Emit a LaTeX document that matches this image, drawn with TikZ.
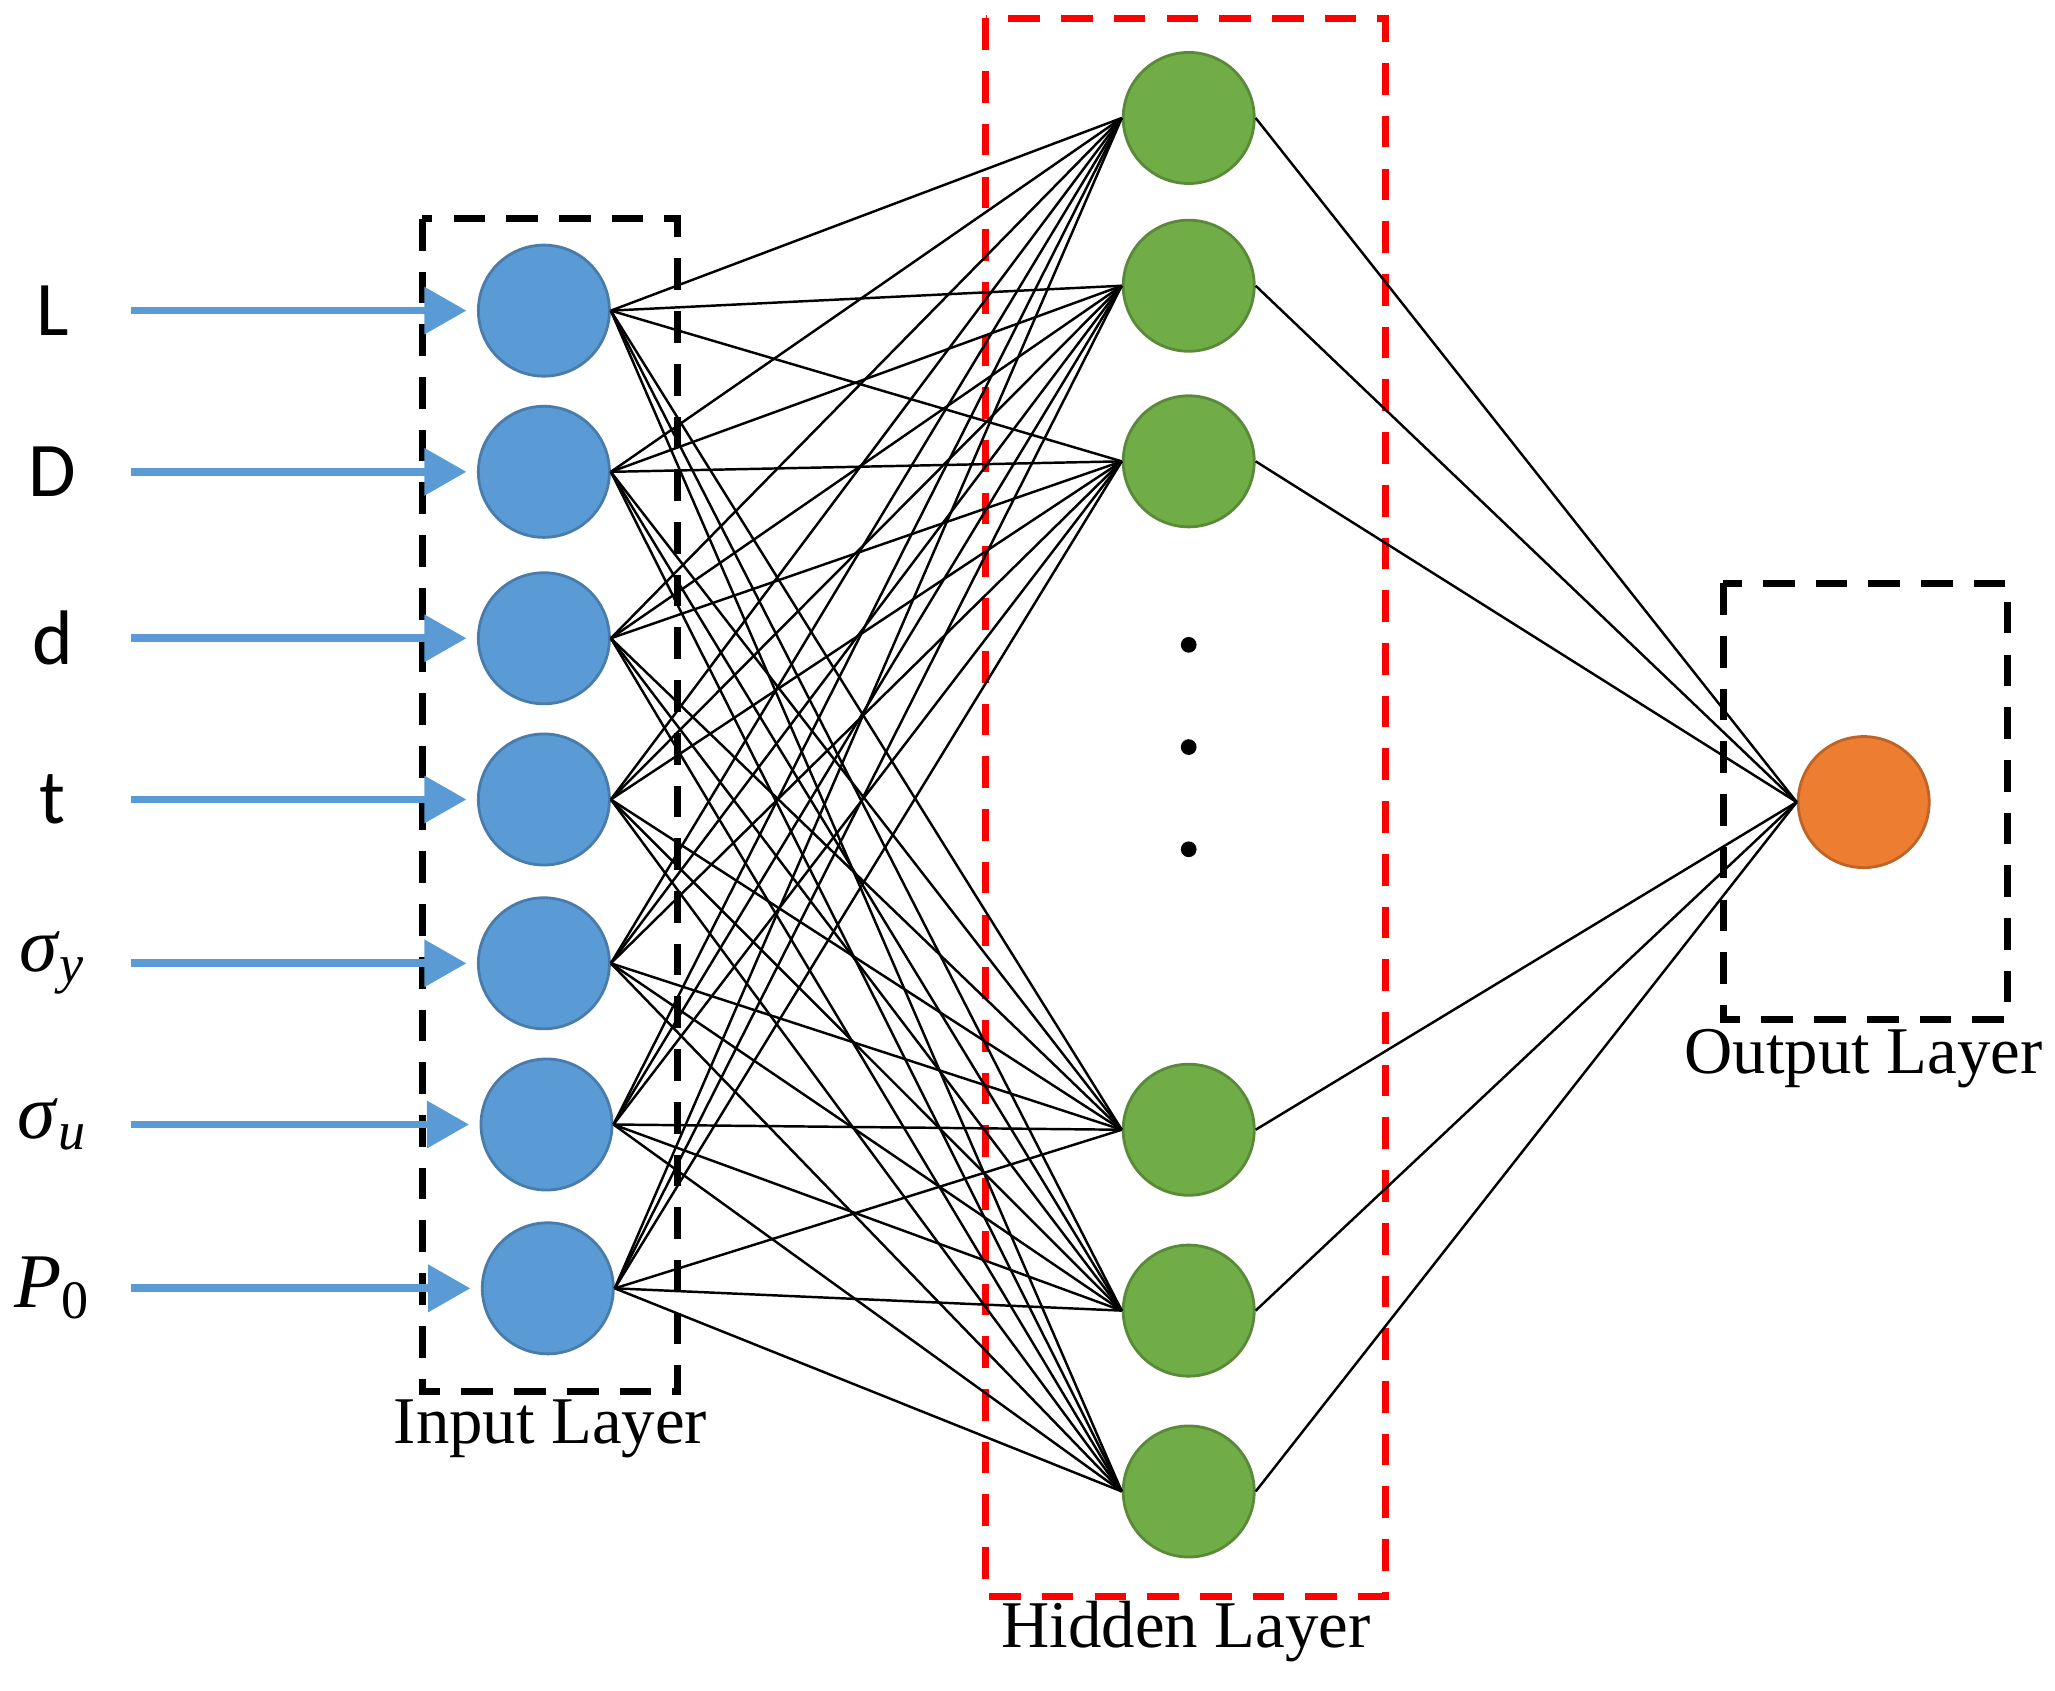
\documentclass[tikz,border=0pt]{standalone}
\usepackage{fontspec}
\setmainfont{Liberation Serif}
\newfontfamily\sansf{Carlito}
\usetikzlibrary{arrows.meta}
\definecolor{inblue}{HTML}{5B9BD5}
\definecolor{hidgreen}{HTML}{70AD47}
\definecolor{outorange}{HTML}{ED7D31}
\begin{document}
\begin{tikzpicture}[x=0.013106cm,y=-0.013106cm,
  neuron/.style={circle,minimum size=100*0.013106cm,inner sep=0pt,draw=#1!80!black,line width=0.8pt},
  conn/.style={black,line width=0.7pt},
  inarrow/.style={inblue,line width=2.2pt,shorten >=8*0.013106cm,-{Triangle[length=12pt,width=13pt]}},
  box/.style={dashed,line width=2pt,dash pattern=on 9pt off 6pt},
  lab/.style={font=\fontsize{19}{22}\selectfont},
  inlab/.style={font=\fontsize{22}{26}\selectfont}]
\useasboundingbox (0,0) rectangle (1568,1290);
% boxes
\draw[box] (322,167) rectangle (517,1062);
\draw[box,red] (752,14) rectangle (1057,1218);
\draw[box] (1315,445) rectangle (1532,778);
\node[lab] (ilab) at (420,1090) {Input Layer};
\node[lab] (hlab) at (905,1245) {Hidden Layer};
\node[lab] (olab) at (1422,808) {Output Layer};
% input nodes
\foreach \i/\y/\x in {1/237/415,2/360/415,3/487/415,4/610/415,5/735/415,6/858/417,7/983/418}
  \node[neuron=inblue,fill=inblue] (i\i) at (\x,\y) {};
% hidden nodes
\foreach \j/\y in {1/90,2/218,3/352,4/862,5/1000,6/1138}
  \node[neuron=hidgreen,fill=hidgreen] (h\j) at (907,\y) {};
\node[neuron=outorange,fill=outorange] (o) at (1422,612) {};
% dots
\foreach \k/\y in {1/492,2/570,3/648}
  \fill (907,\y) circle (6) coordinate (dot\k);
% connections
\foreach \i in {1,...,7}
  \foreach \j in {1,...,6}
    \draw[conn] (i\i.east) -- (h\j.west);
\foreach \j in {1,...,6}
  \draw[conn] (h\j.east) -- (o.west);
% input labels and arrows
\foreach \i/\t in {1/{\sansf L},2/{\sansf D},3/{\sansf d},4/{\sansf t},5/{\textit{σ}\textsubscript{\textit{y}}},6/{\textit{σ}\textsubscript{\textit{u}}},7/{\textit{P}\textsubscript{0}}} {
  \node[inlab,anchor=center] (l\i) at (40,0 |- i\i) {\t};
  \coordinate (s\i) at (100,0 |- i\i);
  \draw[inarrow] (s\i) -- (i\i.west);
}
\end{tikzpicture}
\end{document}
